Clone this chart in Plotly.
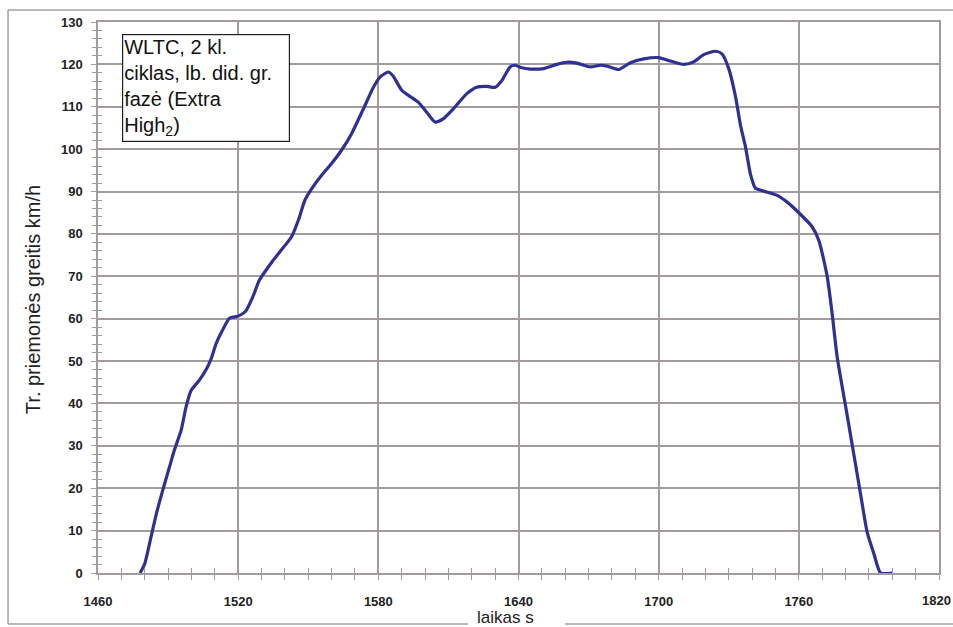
import plotly.graph_objects as go

# Time (s) and vehicle speed (km/h)
time_s = [1478, 1480, 1482.7, 1485, 1487.7, 1490.6, 1492.7, 1495.6, 1497.7, 1499.9,
          1503.4, 1506.6, 1508.4, 1510.6, 1513.5, 1516.3, 1519.9, 1523.1, 1526.3, 1529.1,
          1532.9, 1535, 1537.9, 1542.9, 1545.8, 1548.6, 1551.5, 1555.8, 1560, 1564.3,
          1568.5, 1573.6, 1577.9, 1580.7, 1584.3, 1586.4, 1590, 1592.9, 1597.1,
          1600.7, 1604.3, 1607.9, 1612.1, 1617.9, 1622.1, 1626.4, 1630, 1632.9, 1636.4,
          1638.6, 1641.4, 1645, 1650.7, 1656.4, 1660.7, 1665, 1670.7, 1675, 1677.9,
          1682.9, 1687.9, 1693.6, 1700, 1705, 1710.7, 1715, 1719.3, 1724.3, 1727.1,
          1730, 1732.9, 1735, 1737.1, 1739.3, 1741.4, 1745, 1750.7, 1755, 1760,
          1765.7, 1768.6, 1772.1, 1774.3, 1776.4, 1780, 1783.6, 1786.4, 1789.3, 1792.1,
          1795, 1800]
speed_kmh = [0, 2.2, 8.5, 14, 19.5, 25, 29, 33.7, 39.2, 43.1,
             45.5, 48.3, 50.5, 54.2, 57.5, 60.1, 60.6, 61.7, 65.2, 69.1,
             72.2, 73.8, 75.8, 79.4, 83.3, 88, 90.7, 93.9, 96.6, 99.8,
             103.6, 109.5, 114.6, 117, 118.2, 117.2, 113.9, 112.7, 111.1,
             108.7, 106.4, 107.2, 109.5, 113.1, 114.6, 114.8, 114.6, 116.2, 119.4,
             119.8, 119.2, 118.9, 119.0, 120, 120.5, 120.3, 119.4, 119.8, 119.6,
             118.8, 120.4, 121.3, 121.6, 120.8, 120, 120.6, 122.3, 123.1, 122.5,
             119, 112.4, 105.7, 100.7, 94.1, 90.8, 90.1, 89.1, 87.5, 85,
             81.7, 78.4, 70.1, 61, 51, 39.4, 27.8, 18.7, 9.5, 4.6,
             0, 0]

x_ticks = [1460, 1520, 1580, 1640, 1700, 1760, 1820]
y_ticks = list(range(0, 131, 10))

GRID = "#a39c9c"
FRAME = "#a0a0a0"
LINE = "#2e3192"
FONT = "Liberation Sans, Arial, sans-serif"
TICKFONT = dict(family=FONT, size=13, color="#222", weight="bold")

fig = go.Figure()
fig.add_trace(go.Scatter(
    x=time_s, y=speed_kmh, mode="lines",
    line=dict(color=LINE, width=3.2, shape="spline", smoothing=0.6),
    showlegend=False, hoverinfo="skip"))
# invisible trace on overlay axes for crossing ticks
fig.add_trace(go.Scatter(x=[x_ticks[0], x_ticks[-1]], y=[y_ticks[0], y_ticks[-1]],
                         mode="none", xaxis="x2", yaxis="y2", showlegend=False,
                         hoverinfo="skip"))

fig.update_layout(
    width=953, height=627,
    margin=dict(l=98, r=14, t=22, b=54),
    paper_bgcolor="white", plot_bgcolor="white",
    font=dict(family=FONT, color="#111111"),
    xaxis=dict(range=[1460, 1820], tickvals=x_ticks[:-1],
               tickfont=TICKFONT,
               showgrid=True, gridcolor=GRID, gridwidth=1.5,
               showline=True, linecolor=GRID, linewidth=1.5, mirror=True,
               ticks="outside", ticklen=5, tickcolor=GRID, tickwidth=1,
               ticklabelstandoff=11,
               minor=dict(dtick=10, ticks="outside", ticklen=5, tickcolor=GRID,
                          showgrid=False),
               zeroline=False, fixedrange=True),
    yaxis=dict(range=[0, 130], tickvals=y_ticks,
               tickfont=TICKFONT,
               showgrid=True, gridcolor=GRID, gridwidth=1.5,
               showline=True, linecolor=GRID, linewidth=1.5, mirror=True,
               ticks="outside", ticklen=5, tickcolor=GRID, tickwidth=1,
               ticklabelstandoff=6,
               minor=dict(dtick=2, ticks="outside", ticklen=4, tickcolor=GRID,
                          showgrid=False),
               zeroline=False, fixedrange=True),
    xaxis2=dict(range=[1460, 1820], overlaying="x", anchor="y2", side="bottom",
                showgrid=False, showticklabels=False, ticks="inside", ticklen=5,
                tickcolor=GRID, tickvals=x_ticks,
                minor=dict(dtick=10, ticks="inside", ticklen=5, tickcolor=GRID),
                zeroline=False, showline=False, fixedrange=True),
    yaxis2=dict(range=[0, 130], overlaying="y", anchor="x2", side="left",
                showgrid=False, showticklabels=False, ticks="inside", ticklen=5,
                tickcolor=GRID, tickvals=y_ticks,
                minor=dict(dtick=2, ticks="inside", ticklen=4, tickcolor=GRID),
                zeroline=False, showline=False, fixedrange=True),
)

# last x tick label (placed so it stays inside the page)
fig.add_annotation(text=str(x_ticks[-1]), xref="x", yref="paper", x=x_ticks[-1],
                   y=-0.0508, xanchor="center", yanchor="middle", xshift=-3,
                   showarrow=False, font=TICKFONT)

# outer chart frame (bottom edge broken around the x-axis title)
fx0, fx1, fy0, fy1 = -0.107, 1.06, -0.0926, 1.0218
gap0, gap1 = 0.44, 0.5553
frame_line = dict(color=FRAME, width=1.5)
for (a, b, c, d) in [(fx0, fy0, fx0, fy1), (fx0, fy1, fx1, fy1),
                     (fx0, fy0, gap0, fy0), (gap1, fy0, fx1, fy0)]:
    fig.add_shape(type="line", xref="paper", yref="paper", x0=a, y0=b, x1=c, y1=d,
                  line=frame_line, layer="below")

# axis titles
fig.add_annotation(text="laikas s", xref="paper", yref="paper", x=0.484, y=-0.0799,
                   xanchor="center", yanchor="middle", showarrow=False,
                   font=dict(family=FONT, size=17, color="#222"), borderpad=0)
fig.add_annotation(text="Tr. priemonės greitis km/h", xref="paper", yref="paper",
                   x=-0.0773, y=0.497, textangle=-90, xanchor="center",
                   yanchor="middle", showarrow=False,
                   font=dict(family=FONT, size=20, color="#222"))

# legend-like text box
fig.add_annotation(text="WLTC, 2 kl.<br>ciklas, lb. did. gr.<br>fazė (Extra<br>High<sub>2</sub>)",
                   xref="paper", yref="paper", x=0.0285, y=0.978,
                   xanchor="left", yanchor="top", align="left", showarrow=False,
                   font=dict(family=FONT, size=20, color="#111"),
                   bgcolor="white", bordercolor="#222", borderwidth=1.2,
                   borderpad=1, width=164)

fig.write_html("out.html")
